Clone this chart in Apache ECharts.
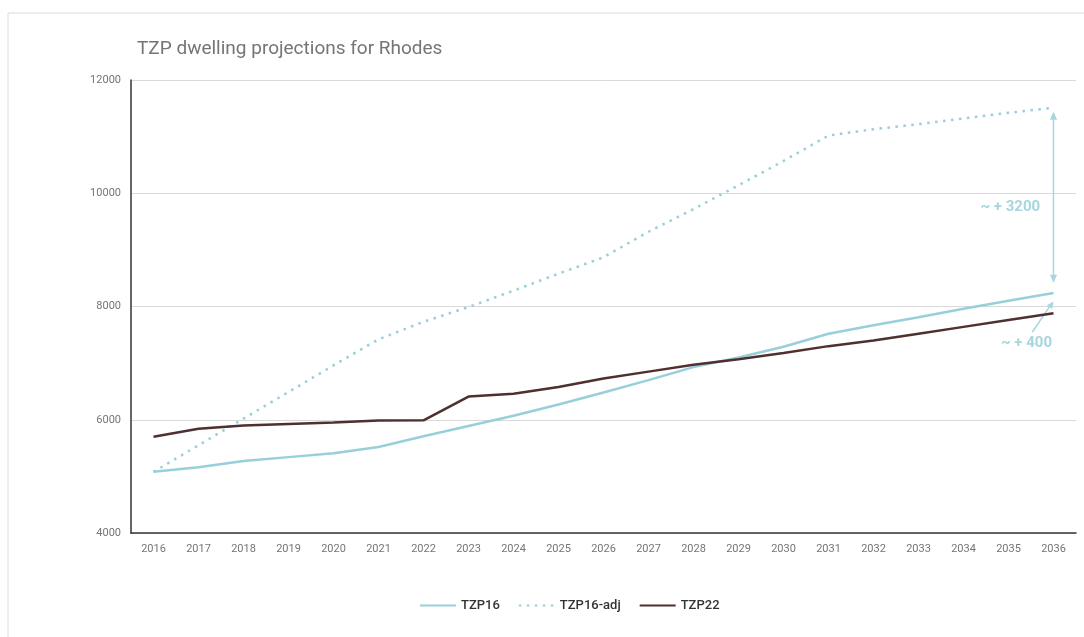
<!DOCTYPE html>
<html lang="en">
<head>
    <meta charset="UTF-8">
    <title>TZP dwelling projections for Rhodes</title>
    <script src="https://cdn.jsdelivr.net/npm/echarts@6/dist/echarts.min.js"></script>
</head>
<style>
    body {
        margin: 0;
        padding: 0;
        background: #fff;
    }
    #main {
        width: 1084px;
        height: 637px;
    }
</style>
<body>
<div id="main"></div>
<script type="text/javascript">
    var years = ['2016', '2017', '2018', '2019', '2020', '2021', '2022', '2023', '2024', '2025', '2026',
        '2027', '2028', '2029', '2030', '2031', '2032', '2033', '2034', '2035', '2036'];
    var tzp16 = [5080, 5160, 5270, 5340, 5410, 5520, 5710, 5890, 6070, 6270, 6480,
        6700, 6930, 7100, 7290, 7520, 7670, 7810, 7960, 8100, 8240];
    var tzp16adj = [5080, 5550, 6020, 6490, 6960, 7420, 7730, 7990, 8280, 8580, 8870,
        9320, 9720, 10140, 10570, 11020, 11130, 11220, 11320, 11420, 11510];
    var tzp22 = [5700, 5840, 5900, 5925, 5950, 5985, 5990, 6410, 6460, 6580, 6730,
        6850, 6970, 7070, 7180, 7300, 7400, 7520, 7640, 7760, 7880];

    var cyan = '#97cfda';
    var brown = '#4f2f2f';
    var noteColor = '#a6d6df';

    var myChart = echarts.init(document.getElementById('main'));

    var option = {
        backgroundColor: '#fff',
        animation: false,
        title: {
            text: 'TZP dwelling projections for Rhodes',
            left: 132,
            top: 35,
            textStyle: {
                fontFamily: 'Roboto',
                fontSize: 19,
                fontWeight: 'normal',
                color: '#757575'
            }
        },
        legend: {
            left: 414,
            top: 594,
            itemWidth: 36,
            itemHeight: 12,
            itemGap: 18,
            itemStyle: {opacity: 0},
            textStyle: {
                fontFamily: 'Roboto',
                fontSize: 13,
                fontWeight: 500,
                color: '#333'
            },
            data: ['TZP16', 'TZP16-adj', 'TZP22']
        },
        grid: {
            left: 131,
            right: 8,
            top: 80,
            bottom: 104
        },
        xAxis: {
            type: 'category',
            data: years,
            boundaryGap: true,
            axisLine: {lineStyle: {color: '#333', width: 1.5}},
            axisTick: {show: false},
            axisLabel: {
                margin: 11,
                fontFamily: 'Roboto',
                fontSize: 11,
                color: '#757575'
            }
        },
        yAxis: {
            type: 'value',
            min: 4000,
            max: 12000,
            interval: 2000,
            axisLine: {show: true, lineStyle: {color: '#333', width: 1.5}},
            axisTick: {show: false},
            axisLabel: {
                margin: 10,
                fontFamily: 'Roboto',
                fontSize: 11,
                color: '#757575',
                formatter: function (v) { return String(v); }
            },
            splitLine: {lineStyle: {color: '#d9d9d9'}}
        },
        series: [
            {
                name: 'TZP16',
                type: 'line',
                data: tzp16,
                symbol: 'none',
                lineStyle: {color: cyan, width: 2.5},
                itemStyle: {color: cyan}
            },
            {
                name: 'TZP16-adj',
                type: 'line',
                data: tzp16adj,
                symbol: 'none',
                lineStyle: {color: cyan, width: 2.5, type: [2.5, 5.5]},
                itemStyle: {color: cyan}
            },
            {
                name: 'TZP22',
                type: 'line',
                data: tzp22,
                symbol: 'none',
                lineStyle: {color: brown, width: 2.5},
                itemStyle: {color: brown}
            }
        ]
    };
    myChart.setOption(option);

    // annotations, placed through the chart's own scales
    function px(idx, val) {
        var i0 = Math.floor(idx), i1 = Math.min(i0 + 1, years.length - 1);
        var a = myChart.convertToPixel({gridIndex: 0}, [i0, val]);
        var b = myChart.convertToPixel({gridIndex: 0}, [i1, val]);
        var f = idx - i0;
        return [a[0] + (b[0] - a[0]) * f, a[1]];
    }

    function head(tip, from, size) {
        var dx = tip[0] - from[0], dy = tip[1] - from[1];
        var len = Math.sqrt(dx * dx + dy * dy);
        var ux = dx / len, uy = dy / len;
        var bx = tip[0] - ux * size, by = tip[1] - uy * size;
        var w = size * 0.45;
        return {
            type: 'polygon',
            shape: {points: [tip, [bx - uy * w, by + ux * w], [bx + uy * w, by - ux * w]]},
            style: {fill: noteColor}
        };
    }

    var last = years.length - 1;
    var top1 = px(last, 11440);
    var bot1 = px(last, 8420);
    var tip2 = px(last, 8090);
    var tail2 = px(last - 0.47, 7550);
    var lab1 = px(last - 0.96, 9760);
    var lab2 = px(last - 0.6, 7350);

    myChart.setOption({
        graphic: [
            {
                type: 'rect',
                shape: {x: 8, y: 13, width: 1090, height: 640},
                style: {fill: 'none', stroke: '#dcdcdc', lineWidth: 1},
                silent: true,
                z: -10
            },
            {
                type: 'text',
                x: lab1[0],
                y: lab1[1],
                style: {
                    text: '~ + 3200',
                    fill: noteColor,
                    font: 'bold 15px Roboto',
                    align: 'center',
                    verticalAlign: 'middle',
                    backgroundColor: '#fff',
                    padding: [3, 9]
                }
            },
            {
                type: 'line',
                shape: {x1: top1[0], y1: top1[1] + 6, x2: bot1[0], y2: bot1[1] - 6},
                style: {stroke: noteColor, lineWidth: 1.5}
            },
            head(top1, bot1, 8),
            head(bot1, top1, 8),
            {
                type: 'line',
                shape: {x1: tail2[0], y1: tail2[1], x2: tip2[0] - 3, y2: tip2[1] + 4},
                style: {stroke: noteColor, lineWidth: 1.5}
            },
            head(tip2, tail2, 7),
            {
                type: 'text',
                x: lab2[0],
                y: lab2[1],
                style: {
                    text: '~ + 400',
                    fill: noteColor,
                    font: 'bold 15px Roboto',
                    align: 'center',
                    verticalAlign: 'middle'
                }
            }
        ]
    });
</script>
</body>
</html>
